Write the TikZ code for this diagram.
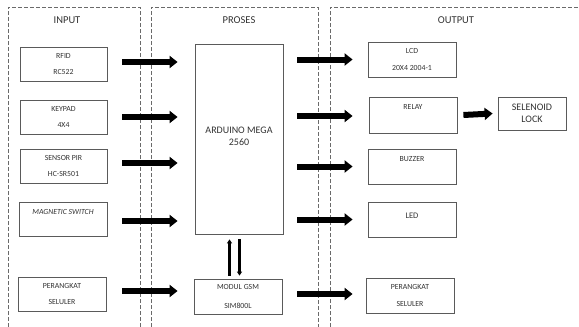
\documentclass[tikz,border=0pt]{standalone}
\usepackage{fontspec}
\setmainfont{Carlito}
\usetikzlibrary{arrows.meta}
\definecolor{txtc}{HTML}{333333}
\definecolor{boxc}{HTML}{5A5A5A}
\definecolor{dashc}{HTML}{6A6A6A}
\begin{document}
\begin{tikzpicture}[x=1pt,y=-1pt,
  blk/.style={draw=boxc,line width=0.8pt,fill=white,inner sep=0pt,minimum width=88pt,minimum height=34pt},
  txt/.style={font=\fontsize{7.8}{9}\selectfont,text=txtc,inner sep=0pt},
  bigtxt/.style={font=\fontsize{10}{12}\selectfont,text=txtc,inner sep=0pt,align=center},
  head/.style={font=\fontsize{10.5}{12}\selectfont,text=txtc,inner sep=0pt},
  frame/.style={draw=dashc,line width=0.6pt,dash pattern=on 4pt off 2pt},
  bigarrow/.style={line width=6pt,-{Triangle[length=8pt,width=12pt]}},
  thinarrow/.style={line width=2.2pt,-{Triangle[length=4pt,width=5pt]}}]
\useasboundingbox (0,0) rectangle (579,327);
% frames
\draw[frame] (8,327) -- (8,7) -- (140,7) -- (140,327);
\draw[frame] (151,327) -- (151,7) -- (318,7) -- (318,327);
\draw[frame] (330,327) -- (330,7) -- (579,7);
\node[head] (hin) at (67,20) {INPUT};
\node[head] (hpr) at (239,20) {PROSES};
\node[head] (hout) at (456,20) {OUTPUT};
% input boxes
\node[blk,minimum width=87pt] (rfid) at (63.5,64) {};
\node[txt] at ([yshift=-9pt]rfid.north) {RFID};
\node[txt] at ([yshift=9pt]rfid.south) {RC522};
\node[blk,minimum width=87pt] (key) at (63.5,117) {};
\node[txt] at ([yshift=-9pt]key.north) {KEYPAD};
\node[txt] at ([yshift=9pt]key.south) {4X4};
\node[blk,minimum width=87pt] (pir) at (63.5,166) {};
\node[txt] at ([yshift=-9pt]pir.north) {SENSOR PIR};
\node[txt] at ([yshift=9pt]pir.south) {HC-SR501};
\node[blk,minimum width=88pt] (mag) at (63,219) {};
\node[txt,font=\fontsize{7.8}{9}\selectfont\itshape] at ([yshift=-10pt]mag.north) {MAGNETIC SWITCH};
\node[blk,minimum width=88pt] (hpin) at (62,294) {};
\node[txt] at ([yshift=-9pt]hpin.north) {PERANGKAT};
\node[txt] at ([yshift=9pt]hpin.south) {SELULER};
% process
\node[blk,minimum width=88pt,minimum height=190pt] (ard) at (239,139) {};
\node[bigtxt] at (239,136.5) {ARDUINO MEGA\\2560};
\node[blk,minimum width=88pt,minimum height=35pt] (gsm) at (238,296.5) {};
\node[txt] at ([yshift=-8.5pt]gsm.north) {MODUL GSM};
\node[txt] at ([yshift=9pt]gsm.south) {SIM800L};
% output boxes
\node[blk,minimum height=35pt] (lcd) at (412,59.5) {};
\node[txt] at ([yshift=-9pt]lcd.north) {LCD};
\node[txt] at ([yshift=9pt]lcd.south) {20X4 2004-1};
\node[blk,minimum height=36pt] (relay) at (413,115) {};
\node[txt] at ([yshift=-10pt]relay.north) {RELAY};
\node[blk,minimum height=35pt] (buzz) at (412,166.5) {};
\node[txt] at ([yshift=-10pt]buzz.north) {BUZZER};
\node[blk,minimum height=35pt] (led) at (412,219.5) {};
\node[txt,font=\fontsize{8.5}{10}\selectfont] at ([yshift=-14pt]led.north) {LED};
\node[blk,minimum height=35pt] (hpout) at (410,295.5) {};
\node[txt] at ([yshift=-9pt]hpout.north) {PERANGKAT};
\node[txt] at ([yshift=9pt]hpout.south) {SELULER};
\node[blk,minimum width=68pt,minimum height=33pt] (sol) at (532,113.5) {};
\node[bigtxt] at (532,113.5) {SELENOID\\LOCK};
% input arrows
\draw[bigarrow] ([xshift=15pt,yshift=2pt]rfid.east) -- ([xshift=-17pt,yshift=2pt]rfid.east -| ard.west);
\draw[bigarrow] ([xshift=15pt]key.east) -- ([xshift=-17pt]key.east -| ard.west);
\draw[bigarrow] ([xshift=15pt,yshift=3pt]pir.east) -- ([xshift=-17pt,yshift=3pt]pir.east -| ard.west);
\draw[bigarrow] ([xshift=15pt,yshift=-2pt]mag.east) -- ([xshift=-17pt,yshift=-2pt]mag.east -| ard.west);
\draw[bigarrow] ([xshift=16pt,yshift=3pt]hpin.east) -- ([xshift=-16pt,yshift=3pt]hpin.east -| gsm.west);
% output arrows
\draw[bigarrow] ([xshift=14pt]lcd.west -| ard.east) -- ([xshift=-15pt]lcd.west);
\draw[bigarrow] ([xshift=14pt,yshift=-1pt]relay.west -| ard.east) -- ([xshift=-16pt,yshift=-1pt]relay.west);
\draw[bigarrow] ([xshift=14pt]buzz.west -| ard.east) -- ([xshift=-15pt]buzz.west);
\draw[bigarrow] ([xshift=14pt]led.west -| ard.east) -- ([xshift=-15pt]led.west);
\draw[bigarrow] ([xshift=15pt,yshift=2.5pt]gsm.east) -- ([xshift=-13pt,yshift=2.5pt]gsm.east -| hpout.west);
\draw[bigarrow] ([xshift=6pt]relay.east) -- ([xshift=-5pt]sol.west);
% GSM <-> Arduino
\draw[thinarrow] ([xshift=-8.5pt,yshift=3pt]gsm.north) -- ([xshift=-8.5pt,yshift=-5pt]gsm.north |- ard.south);
\draw[thinarrow] ([xshift=1.5pt,yshift=-5pt]gsm.north |- ard.south) -- ([xshift=1.5pt,yshift=3pt]gsm.north);
\end{tikzpicture}
\end{document}
